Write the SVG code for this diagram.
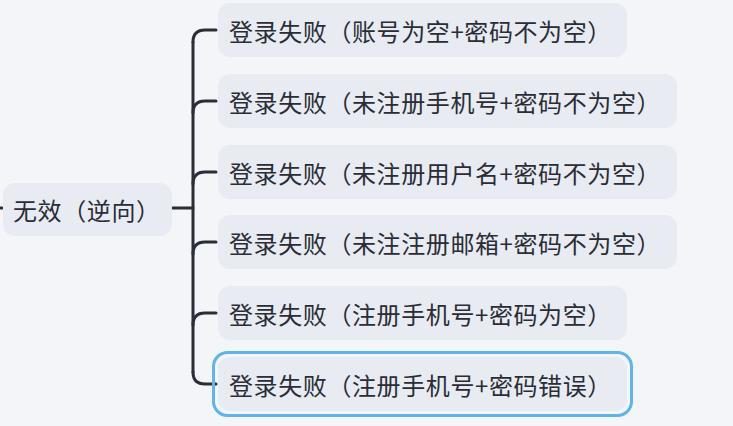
<svg xmlns="http://www.w3.org/2000/svg" width="733" height="426" viewBox="0 0 733 426">
<style>
.bg{fill:#f3f5f9}
.box{fill:#e8ebf2}
.sel{fill:none;stroke:#5fb4ec;stroke-width:3}
.t{font-family:"Noto Sans CJK SC","Noto Sans",sans-serif;font-size:24px;letter-spacing:0.6px;fill:#2a2d35;dominant-baseline:central}
.c{fill:none;stroke:#2a2e37;stroke-width:3;stroke-linecap:round}
</style>
<rect class="bg" x="0" y="0" width="733" height="426"/>
<g id="connectors">
<line class="c" x1="0" y1="208" x2="2" y2="208"/>
<line class="c" x1="172" y1="208" x2="193" y2="208"/>
<line class="c" x1="193" y1="42" x2="193" y2="372"/>
<path class="c" d="M193 42 Q193 30 205 30 L216 30"/>
<path class="c" d="M193 113 Q193 101 205 101 L216 101"/>
<path class="c" d="M193 184 Q193 172 205 172 L216 172"/>
<path class="c" d="M193 254 Q193 242 205 242 L216 242"/>
<path class="c" d="M193 325 Q193 313 205 313 L216 313"/>
<path class="c" d="M193 372 Q193 384 205 384 L216 384"/>
</g>
<g id="root">
<rect class="box" x="3" y="183" width="169" height="53" rx="12"/>
<text class="t" x="13" y="209">无效（逆向）</text>
</g>
<g id="n1">
<rect class="box" x="218" y="3" width="409" height="54" rx="12"/>
<text class="t" x="229" y="30">登录失败（账号为空+密码不为空）</text>
</g>
<g id="n2">
<rect class="box" x="218" y="74" width="459" height="54" rx="12"/>
<text class="t" x="229" y="101">登录失败（未注册手机号+密码不为空）</text>
</g>
<g id="n3">
<rect class="box" x="218" y="145" width="459" height="54" rx="12"/>
<text class="t" x="229" y="172">登录失败（未注册用户名+密码不为空）</text>
</g>
<g id="n4">
<rect class="box" x="218" y="215" width="459" height="54" rx="12"/>
<text class="t" x="229" y="242">登录失败（未注注册邮箱+密码不为空）</text>
</g>
<g id="n5">
<rect class="box" x="218" y="286" width="409" height="54" rx="12"/>
<text class="t" x="229" y="313">登录失败（注册手机号+密码为空）</text>
</g>
<g id="n6">
<rect class="box" x="218" y="357" width="409" height="54" rx="12"/>
<rect class="sel" x="213.5" y="352.5" width="418" height="63" rx="14"/>
<text class="t" x="229" y="384">登录失败（注册手机号+密码错误）</text>
</g>
</svg>
